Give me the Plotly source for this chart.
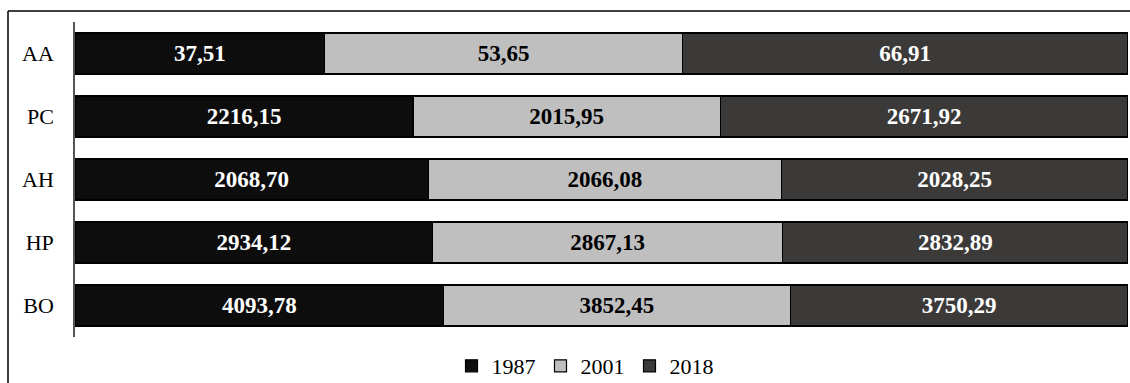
import plotly.graph_objects as go

categories = ["AA", "PC", "AH", "HP", "BO"]
series_names = ["1987", "2001", "2018"]
v1987 = [37.51, 2216.15, 2068.70, 2934.12, 4093.78]
v2001 = [53.65, 2015.95, 2066.08, 2867.13, 3852.45]
v2018 = [66.91, 2671.92, 2028.25, 2832.89, 3750.29]

colors = ["#0d0d0d", "#bfbfbf", "#3b3a39"]
text_colors = ["white", "black", "white"]

def fmt(v):
    return f"{v:.2f}".replace(".", ",")

fig = go.Figure()
for name, vals, c, tc in zip(series_names, [v1987, v2001, v2018], colors, text_colors):
    fig.add_trace(go.Bar(
        y=categories, x=vals, name=name, orientation="h",
        marker=dict(color=c, line=dict(color="#000000", width=1.2)),
        text=[fmt(v) for v in vals], textposition="inside", insidetextanchor="middle",
        textfont=dict(family="Liberation Serif", size=23, color=tc, weight="bold"),
        hoverinfo="skip",
    ))

W, H = 1130, 383
ml, mr, mt, mb = 75, 2, 22, 46
pw, ph = W - ml - mr, H - mt - mb

fig.update_layout(
    width=W, height=H, barmode="stack", barnorm="percent", bargap=0.35,
    margin=dict(l=ml, r=mr, t=mt, b=mb, autoexpand=False),
    paper_bgcolor="white", plot_bgcolor="white",
    font=dict(family="Liberation Serif", color="black", size=22),
    xaxis=dict(range=[0, 100], visible=False),
    yaxis=dict(categoryorder="array", categoryarray=categories, autorange="reversed",
               showline=True, linecolor="#555555", linewidth=1.5, showgrid=False,
               ticks="", ticklabelstandoff=15, tickfont=dict(size=22)),
    legend=dict(orientation="h", x=(585 - ml) / pw, xanchor="center", y=-29 / ph, yanchor="middle",
                font=dict(size=22), traceorder="normal", itemwidth=30,
                bgcolor="rgba(0,0,0,0)"),
    showlegend=True,
    uniformtext=dict(minsize=10, mode="show"),
)

# outer frame (extends beyond the right and bottom edges as in the reference)
fig.add_shape(type="line", xref="paper", yref="paper",
              x0=(8 - ml) / pw, x1=(W + 10 - ml) / pw, y0=1 + (mt - 11) / ph, y1=1 + (mt - 11) / ph,
              line=dict(color="black", width=1.5))
fig.add_shape(type="line", xref="paper", yref="paper",
              x0=(8 - ml) / pw, x1=(8 - ml) / pw, y0=1 + (mt - 11) / ph, y1=-(mb + 10) / ph,
              line=dict(color="black", width=1.5))

fig.write_html("out.html", config={"displayModeBar": False},
               post_script="document.body.style.margin='0';document.body.style.overflow='hidden';")
